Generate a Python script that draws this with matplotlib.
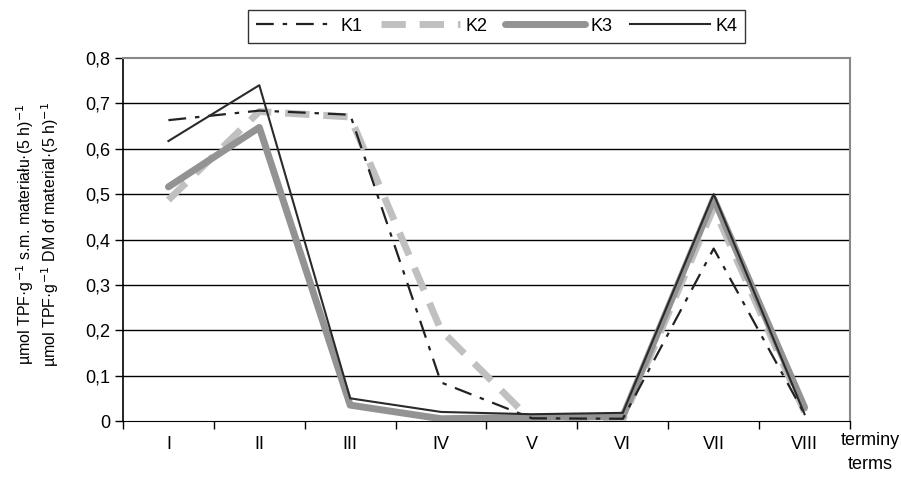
import matplotlib
matplotlib.use('Agg')
import matplotlib.pyplot as plt
from matplotlib.ticker import FuncFormatter, FixedLocator

plt.rcParams['font.family'] = ['Liberation Sans', 'DejaVu Sans']

# terms (categories) and the four series
terms = ['I', 'II', 'III', 'IV', 'V', 'VI', 'VII', 'VIII']
k1 = [0.663, 0.684, 0.675, 0.085, 0.006, 0.005, 0.380, 0.015]
k2 = [0.487, 0.682, 0.670, 0.200, 0.000, 0.003, 0.470, 0.020]
k3 = [0.516, 0.647, 0.035, 0.005, 0.008, 0.010, 0.490, 0.030]
k4 = [0.617, 0.740, 0.050, 0.020, 0.015, 0.018, 0.500, 0.015]

fig = plt.figure(figsize=(9.01, 4.78), dpi=100)
ax = fig.add_axes([0.1365, 0.1192, 0.8069, 0.7595])

x = list(range(len(terms)))

l1, = ax.plot(x, k1, color='#222222', lw=1.6, linestyle=(0, (8, 4, 2, 4)), zorder=5)
l2, = ax.plot(x, k2, color='#c0c0c0', lw=5, linestyle=(0, (3.5, 2)), zorder=3)
l3, = ax.plot(x, k3, color='#939393', lw=5, solid_capstyle='round', zorder=4)
l4, = ax.plot(x, k4, color='#2a2a2a', lw=1.5, zorder=6)

ax.set_xlim(-0.5, len(terms) - 0.5)
ax.set_ylim(0, 0.8)

# horizontal grid
ax.set_yticks([i / 10 for i in range(9)])
ax.yaxis.set_major_formatter(FuncFormatter(lambda v, p: ('%.1f' % v).replace('.', ',') if v > 0 else '0'))
for i in range(1, 8):
    ax.axhline(i / 10, color='black', lw=1, zorder=1)

# category labels centred, ticks between categories
ax.set_xticks(x)
ax.set_xticklabels(terms)
ax.tick_params(axis='x', which='major', length=0, labelsize=13, pad=11)
ax.xaxis.set_minor_locator(FixedLocator([i + 0.5 for i in range(-1, len(terms))]))
ax.tick_params(axis='x', which='minor', length=6, width=1, direction='out')
ax.tick_params(axis='y', length=6, width=1, direction='out', labelsize=13, pad=3)

ax.spines['left'].set_color('black')
ax.spines['bottom'].set_color('black')
ax.spines['left'].set_linewidth(1.2)
ax.spines['top'].set_color('#888888')
ax.spines['right'].set_color('#888888')
ax.spines['top'].set_linewidth(1.5)
ax.spines['right'].set_linewidth(1.5)

fig.text(0.028, 0.51, r'µmol TPF·g$^{-1}$ s.m. materiału·(5 h)$^{-1}$',
         rotation=90, ha='center', va='center', fontsize=11.5)
fig.text(0.056, 0.51, r'µmol TPF·g$^{-1}$ DM of material·(5 h)$^{-1}$',
         rotation=90, ha='center', va='center', fontsize=11.5)

fig.text(0.966, 0.078, 'terminy', ha='center', va='center', fontsize=13)
fig.text(0.966, 0.028, 'terms', ha='center', va='center', fontsize=13)

leg = fig.legend([l1, l2, l3, l4], ['K1', 'K2', 'K3', 'K4'], loc='center',
                 bbox_to_anchor=(0.551, 0.945), ncol=4, frameon=True, fancybox=False,
                 edgecolor='black', fontsize=13, handlelength=4.4, columnspacing=1.0,
                 handletextpad=0.3, borderpad=0.45)
leg.get_frame().set_linewidth(1)

fig.savefig('out.png', dpi=100)
